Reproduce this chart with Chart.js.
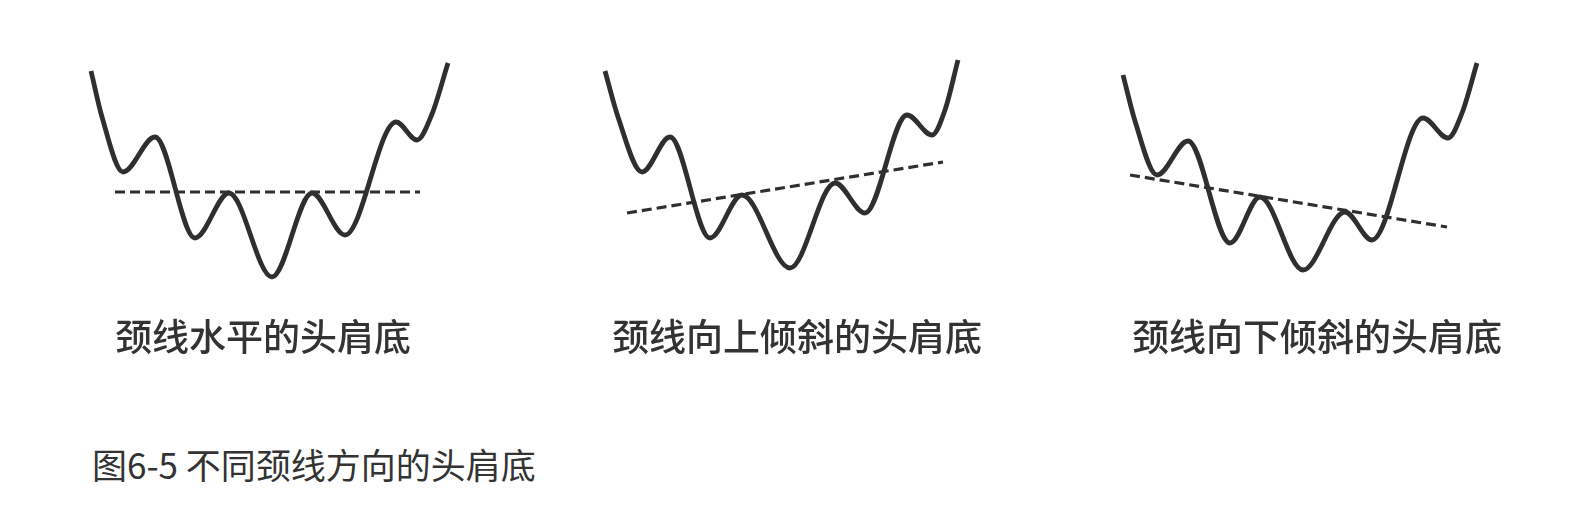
<!DOCTYPE html>
<html>
<head>
<meta charset="utf-8">
<script src="https://cdn.jsdelivr.net/npm/chart.js@4/dist/chart.umd.min.js"></script>
<style>
  html, body { margin: 0; padding: 0; background: #fff; }
  #page { position: relative; width: 1586px; height: 510px; overflow: hidden; }
  canvas.panel { position: absolute; top: 40px; filter: blur(0.4px); }
  .cap {
    position: absolute; top: 313px; white-space: nowrap;
    font-family: "Noto Sans CJK SC", "Noto Sans", sans-serif;
    font-size: 37px; font-weight: 500; color: #333; line-height: 44px;
    filter: blur(0.5px);
  }
  #fig {
    position: absolute; left: 92px; top: 442px; white-space: nowrap;
    font-family: "Noto Sans CJK SC", "Noto Sans", sans-serif;
    font-size: 35px; font-weight: 400; color: #333; line-height: 44px;
  }
</style>
</head>
<body>
<div id="page">
  <canvas id="c1" class="panel" width="410" height="260" style="left:80px"></canvas>
  <canvas id="c2" class="panel" width="410" height="260" style="left:590px"></canvas>
  <canvas id="c3" class="panel" width="410" height="260" style="left:1100px"></canvas>
  <div class="cap" style="left:115px">颈线水平的头肩底</div>
  <div class="cap" style="left:612px">颈线向上倾斜的头肩底</div>
  <div class="cap" style="left:1132px">颈线向下倾斜的头肩底</div>
  <div id="fig">图6-5 不同颈线方向的头肩底</div>
</div>
<script>
// price path (time, price) for each pattern
var flatX  = [11, 22, 43, 75, 115, 149, 192, 232, 265, 316, 337, 352, 368];
var flatY  = [229, 183, 128, 163, 62, 107, 23, 107, 65, 178, 160, 186, 237];
var flatNeckX = [35, 340];
var flatNeckY = [108, 108];

var upX  = [15, 28, 52, 80, 120, 152, 200, 245, 275, 317, 342, 355, 368];
var upY  = [229, 183, 128, 163, 62, 105, 32, 117, 87, 185, 165, 190, 240];
var upNeckX = [37, 353];
var upNeckY = [87, 138];

var downX  = [23, 35, 57, 88, 130, 160, 203, 245, 272, 323, 348, 362, 377];
var downY  = [225, 179, 125, 159, 57, 103, 30, 88, 60, 182, 162, 187, 237];
var downNeckX = [30, 347];
var downNeckY = [125, 73];

function pts(xs, ys){
    var out = [];
    for (var i = 0; i < xs.length; i++) out.push({x: xs[i], y: ys[i]});
    return out;
}

function pattern(id, xs, ys, nx, ny){
    new Chart(document.getElementById(id), {
        type: 'line',
        data: {
            datasets: [{
                data: pts(xs, ys),
                borderColor: '#2f2f2f',
                borderWidth: 4.8,
                cubicInterpolationMode: 'monotone',
                pointRadius: 0,
                clip: false
            }, {
                data: pts(nx, ny),
                borderColor: '#2f2f2f',
                borderWidth: 3.2,
                borderDash: [10, 5],
                pointRadius: 0,
                clip: false
            }]
        },
        options: {
            responsive: false,
            animation: false,
            layout: { padding: 0 },
            plugins: { legend: { display: false }, tooltip: { enabled: false } },
            scales: {
                x: { type: 'linear', min: 0, max: 410, display: false },
                y: { type: 'linear', min: 0, max: 260, display: false }
            }
        }
    });
}

pattern('c1', flatX, flatY, flatNeckX, flatNeckY);
pattern('c2', upX, upY, upNeckX, upNeckY);
pattern('c3', downX, downY, downNeckX, downNeckY);
</script>
</body>
</html>
